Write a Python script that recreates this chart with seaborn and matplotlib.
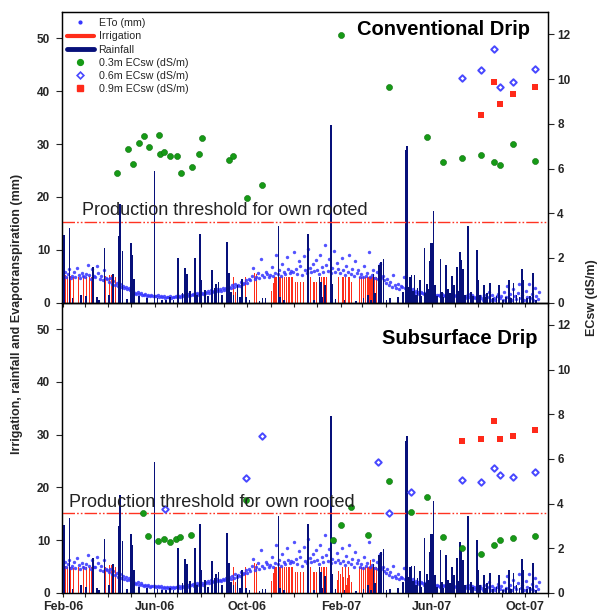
import numpy as np
import pandas as pd
import matplotlib
matplotlib.use("Agg")
import matplotlib.pyplot as plt
import matplotlib.dates as mdates
import matplotlib.transforms as mtrans
from matplotlib.lines import Line2D
import seaborn as sns

START = pd.Timestamp("2006-02-01")

# ---------------- data (day offsets from 1 Feb 2006) ----------------
# Daily reference evapotranspiration, sampled every 2 days (mm)
eto_mm = [
    5.2, 5.8, 4.9, 5.5, 6.3, 4.7, 5.1, 5.9, 4.8, 6.6, 5.3, 4.6, 5.7, 5.0,            # Feb-06
    4.8, 5.5, 7.1, 5.2, 4.5, 6.3, 5.0, 4.9, 6.9, 5.6, 4.4, 5.1, 4.2, 6.2, 4.6,       # Mar-06
    4.4, 3.9, 4.6, 3.6, 4.1, 3.4, 3.8, 3.1, 3.5, 2.9, 3.2, 2.7, 3.0, 2.5, 2.8,       # Apr-06
    2.4, 2.1, 2.3, 1.9, 1.7, 2.0, 1.6, 1.8, 1.5, 1.4, 1.6, 1.3, 1.5, 1.2, 1.4, 1.3,  # May-06
    1.3, 1.2, 1.4, 1.1, 1.3, 1.0, 1.2, 0.9, 1.1, 1.0, 1.2, 0.9, 1.1, 1.0, 1.2,       # Jun-06
    1.1, 1.3, 1.0, 1.4, 1.2, 1.5, 1.3, 1.6, 1.2, 1.5, 1.7, 1.4, 1.6, 1.8, 1.5,       # Jul-06
    1.7, 1.9, 1.6, 2.0, 1.8, 2.2, 1.9, 2.4, 2.0, 2.3, 2.1, 2.6, 2.2, 2.5, 2.3, 2.7,  # Aug-06
    2.4, 2.8, 2.6, 3.0, 2.7, 3.3, 2.9, 3.6, 3.1, 3.4, 3.2, 4.0, 3.5, 3.8, 4.3,       # Sep-06
    3.8, 4.5, 4.2, 5.1, 6.5, 4.4, 4.9, 5.6, 4.6, 8.2, 5.2, 4.8, 5.9, 5.4, 4.9,       # Oct-06
    5.3, 6.8, 5.0, 5.7, 9.1, 5.5, 6.2, 5.1, 7.4, 5.9, 5.4, 8.6, 6.3, 5.6, 6.0,       # Nov-06
    5.8, 9.6, 6.4, 5.5, 7.9, 6.9, 5.2, 8.8, 6.1, 5.7, 10.2, 6.6, 5.9, 7.3, 6.0, 8.1, # Dec-06
    6.2, 5.4, 9.0, 6.8, 5.8, 11.0, 7.1, 6.0, 8.3, 5.6, 6.5, 9.7, 5.9, 7.6, 6.3,      # Jan-07
    5.7, 8.5, 6.1, 5.3, 7.0, 5.9, 9.1, 5.5, 6.4, 5.0, 7.8, 5.6, 6.2, 4.9,            # Feb-07
    5.4, 4.8, 6.9, 5.1, 5.6, 9.6, 4.9, 5.3, 6.2, 4.7, 5.8, 4.5, 7.3, 4.6, 5.0, 4.2,  # Mar-07
    3.8, 4.5, 3.4, 3.9, 3.0, 5.2, 3.3, 2.8, 3.6, 2.6, 3.1, 2.9, 4.8, 2.7, 2.5,       # Apr-07
    2.4, 2.8, 2.2, 2.6, 1.9, 2.3, 2.0, 1.7, 2.1, 1.8, 1.6, 1.9, 1.5, 1.7, 1.4,       # May-07
    1.6, 1.4, 1.7, 1.3, 1.5, 1.4, 1.2, 1.6, 1.3, 1.5, 1.2, 1.4, 1.1, 1.3, 1.4,       # Jun-07
    1.2, 1.4, 1.0, 1.3, 1.1, 1.5, 1.2, 0.9, 1.3, 1.6, 1.0, 1.2, 1.4, 1.1, 0.8, 1.3,  # Jul-07
    0.7, 1.3, 0.9, 0.5, 1.5, 0.8, 1.1, 2.0, 0.6, 1.4, 0.9, 0.5, 1.2, 1.7, 0.8,       # Aug-07
    1.3, 0.6, 2.1, 1.0, 3.2, 0.8, 1.6, 0.5, 2.5, 1.2, 0.7, 1.9, 3.6, 0.9, 1.5,       # Sep-07
    0.6, 2.3, 1.1, 3.5, 0.8, 1.7, 0.5, 2.8, 1.3, 0.7, 2.0,                           # Oct-07
]

rain_day = [1, 8, 12, 23, 30, 39, 44, 47, 54, 60, 65, 73, 75, 78, 84, 89, 91, 93, 100,
            110, 120, 124, 130, 135, 140, 145, 151, 157, 160, 163, 167, 173, 176, 180,
            181, 186, 190, 196, 199, 201, 204, 209, 215, 218, 221, 224, 229, 232, 235,
            240, 245, 258, 262, 266, 283, 285, 290, 322, 330, 337, 339, 341, 344, 352,
            353, 354, 358, 370, 385, 395, 401, 405, 408, 410, 415, 418, 421, 425, 430,
            440, 447, 450, 451, 452, 455, 456, 458, 460, 462, 464, 466, 469, 471, 475,
            476, 478, 480, 482, 483, 485, 487, 489, 492, 496, 498, 500, 503, 506, 509,
            511, 512, 514, 518, 519, 522, 524, 526, 528, 532, 533, 536, 539, 544, 546,
            548, 553, 555, 557, 561, 565, 570, 573, 578, 582, 586, 589, 592, 596, 600,
            603, 605, 610, 614, 618, 622]
rain_mm = [12.8, 14.2, 0.8, 1.5, 1.2, 6.7, 1.0, 0.6, 10.3, 1.5, 5.4, 12.6, 18.6, 9.8, 0.7,
           11.2, 9.0, 4.4, 1.2, 0.9, 24.9, 0.8, 0.5, 0.5, 1.0, 0.6, 8.5, 1.8, 6.5, 5.5,
           2.2, 8.5, 1.5, 13.0, 4.3, 2.4, 1.2, 6.1, 2.8, 3.5, 4.0, 1.5, 11.4, 5.6, 2.0,
           1.5, 3.4, 1.0, 4.4, 1.0, 0.6, 0.4, 0.8, 0.8, 14.6, 1.0, 0.5, 13.0, 0.6, 4.9,
           3.9, 1.0, 3.3, 33.6, 13.0, 3.5, 0.7, 0.5, 0.4, 0.8, 1.5, 0.6, 5.5, 1.8, 7.2,
           7.7, 8.3, 0.5, 0.8, 1.0, 2.0, 4.0, 28.8, 29.7, 3.0, 4.9, 5.2, 2.2, 5.2, 1.5,
           2.8, 4.2, 1.2, 10.4, 1.8, 3.6, 2.5, 7.8, 11.2, 11.2, 17.4, 3.4, 1.2, 8.2, 2.0,
           1.0, 7.1, 2.5, 1.8, 5.0, 3.0, 3.4, 6.7, 2.2, 9.6, 8.0, 6.3, 1.5, 14.6, 8.2,
           2.0, 1.2, 10.0, 4.3, 1.5, 3.4, 1.0, 1.8, 3.7, 0.8, 1.2, 3.4, 0.6, 1.0, 4.3,
           0.8, 3.7, 1.5, 1.0, 6.4, 4.3, 0.8, 1.2, 5.6, 0.6]

irr_day = [0, 3, 6, 9, 13, 20, 26, 31, 34, 37, 40, 47, 55, 61, 63, 69,
           224, 227, 239, 240, 252, 254, 274, 277,
           278, 279, 281, 283, 284, 286, 288, 289, 291, 293, 294, 296, 298, 300, 302,
           306, 308, 310, 312, 314, 316, 318, 321, 323, 325, 329, 331, 333, 335,
           340, 342, 344, 346, 360, 361, 362, 364, 365, 367, 368, 369, 371, 372, 374,
           375, 377, 379, 390, 392, 393, 395, 397, 398, 400, 402, 403, 404, 405, 407,
           409, 410, 412, 414]
irr_conv_mm = [4.9, 5.2, 4.9, 5.0, 4.8, 4.9, 5.1, 4.9, 5.0, 4.9, 4.8, 5.0, 5.0, 5.3, 5.3, 4.9,
               4.9, 2.0, 5.5, 4.9, 5.6, 5.5, 2.3, 3.7,
               4.9, 4.9, 4.9, 4.9, 4.9, 4.9, 4.9, 4.9, 4.9, 4.9, 4.9, 4.9, 4.9, 4.9, 4.9,
               3.9, 3.9, 3.9, 3.9, 3.9, 3.9, 3.9, 4.9, 4.9, 4.9, 3.9, 3.9, 3.9, 3.9,
               4.9, 4.9, 4.9, 4.9, 4.9, 0.0, 4.9, 0.0, 0.0, 4.9, 0.0, 4.9, 4.9, 0.0, 0.0,
               4.9, 4.9, 3.9, 4.9, 4.9, 4.9, 4.9, 4.9, 4.9, 4.9, 4.9, 4.9, 4.9, 4.9, 4.9,
               4.9, 4.9, 4.9, 4.9]
irr_sub_mm = [4.9, 5.2, 4.9, 5.0, 4.8, 4.9, 5.1, 4.9, 5.0, 4.9, 4.8, 5.0, 5.0, 5.3, 5.3, 4.9,
              4.9, 2.0, 5.5, 4.9, 5.6, 5.5, 2.3, 3.7,
              4.9, 4.9, 4.9, 4.9, 4.9, 4.9, 4.9, 4.9, 4.9, 4.9, 4.9, 4.9, 4.9, 4.9, 4.9,
              3.9, 3.9, 3.9, 3.9, 3.9, 3.9, 3.9, 4.9, 4.9, 4.9, 3.9, 3.9, 3.9, 3.9,
              4.9, 4.9, 4.9, 4.9, 4.9, 2.5, 4.2, 1.8, 3.6, 4.9, 2.2, 3.0, 4.9, 1.6, 2.8,
              4.9, 3.4, 2.0, 4.9, 4.9, 4.9, 4.9, 4.9, 4.9, 4.9, 4.9, 4.9, 6.3, 4.9, 4.9,
              4.9, 4.9, 4.9, 4.9]

# Soil water salinity ECsw (dS/m) - Conventional drip
conv_03_day = [71, 85, 92, 99, 106, 113, 126, 127, 133, 141, 149, 155, 169, 178, 183,
               218, 223, 241, 261, 365, 429, 479, 500, 525, 549, 566, 575, 591, 620]
conv_03 = [5.82, 6.87, 6.21, 7.12, 7.47, 6.97, 7.52, 6.66, 6.72, 6.58, 6.54, 5.82, 6.08,
           6.67, 7.36, 6.39, 6.58, 4.66, 5.26, 11.96, 9.63, 7.39, 6.27, 6.48, 6.60, 6.31,
           6.17, 7.08, 6.33]
conv_06_day = [525, 549, 566, 575, 591, 620]
conv_06 = [10.05, 10.39, 11.35, 9.63, 9.87, 10.47]
conv_09_day = [549, 566, 575, 591, 620]
conv_09 = [8.39, 9.88, 8.87, 9.35, 9.63]

# Subsurface drip
sub_03_day = [105, 112, 125, 132, 140, 148, 154, 168, 240, 355, 365, 379, 401, 429, 458,
              479, 500, 525, 549, 566, 575, 591, 620]
sub_03 = [3.59, 2.56, 2.32, 2.41, 2.30, 2.41, 2.49, 2.60, 4.17, 2.35, 3.06, 3.83, 2.61,
          5.0, 3.63, 4.29, 2.49, 2.0, 1.75, 2.15, 2.39, 2.44, 2.57]
sub_06_day = [134, 240, 261, 414, 429, 458, 525, 549, 566, 575, 591, 620]
sub_06 = [3.74, 5.14, 7.02, 5.85, 3.59, 4.53, 5.05, 4.97, 5.60, 5.30, 5.21, 5.43]
sub_09_day = [525, 549, 566, 575, 591, 620]
sub_09 = [6.80, 6.89, 7.69, 6.89, 7.02, 7.28]

threshold_ecsw = 3.6
panel_titles = ["Conventional Drip", "Subsurface Drip"]
threshold_label = "Production threshold for own rooted"

# ---------------- styling ----------------
sns.set_style("ticks")
plt.rcParams['font.family'] = ['Liberation Sans', 'DejaVu Sans']

NAVY = "#07107a"
RED = "#ff2d1a"
ETO_BLUE = "#3535ff"
GREEN = "#169a16"
DIAM = "#4848ff"
SQ = "#ff2a1a"


def to_dates(days):
    return START + pd.to_timedelta(np.asarray(days, dtype=float), unit="D")


XMIN = START - pd.Timedelta(days=1.3)
XMAX = pd.Timestamp("2007-11-01")

fig = plt.figure(figsize=(5.98, 6.11), dpi=100)
ax_top = fig.add_axes([0.1042, 0.5046, 0.8127, 0.4758])
ax_bot = fig.add_axes([0.1042, 0.0295, 0.8127, 0.4752])
ax_bot.patch.set_alpha(0)

eto_dates = pd.date_range(START, periods=len(eto_mm), freq="2D")

panels = [
    (ax_top, irr_conv_mm, (conv_03_day, conv_03), (conv_06_day, conv_06), (conv_09_day, conv_09),
     panel_titles[0], (0.962, 0.921), 0.0405),
    (ax_bot, irr_sub_mm, (sub_03_day, sub_03), (sub_06_day, sub_06), (sub_09_day, sub_09),
     panel_titles[1], (0.977, 0.856), 0.0144),
]

for i, (ax, irr, d03, d06, d09, title, tpos, txt_x) in enumerate(panels):
    ax.bar(to_dates(irr_day), irr, width=1.15, color=RED, linewidth=0, zorder=2)
    sns.scatterplot(x=eto_dates, y=eto_mm, ax=ax, color=ETO_BLUE, s=6, linewidth=0,
                    alpha=0.85, zorder=3, legend=False)
    ax.bar(to_dates(rain_day), rain_mm, width=2.2, color=NAVY, linewidth=0, zorder=4)

    ax.set_xlim(XMIN, XMAX)
    ax.set_ylim(0, 55)
    ax.set_yticks(range(0, 51, 10))
    ax.set_xlabel("")
    ax.set_ylabel("")
    ax.xaxis.set_major_locator(mdates.MonthLocator(bymonth=[2, 6, 10]))
    ax.xaxis.set_minor_locator(mdates.MonthLocator())
    ax.xaxis.set_major_formatter(mdates.DateFormatter('%b-%y'))
    ax.tick_params(axis='x', which='both', direction='out', length=3, width=0.8,
                   labelsize=9, pad=3, labelbottom=(i == 1))
    ax.tick_params(axis='y', direction='out', length=4, width=0.8, labelsize=8.5, pad=4.8)
    for lab in ax.get_xticklabels() + ax.get_yticklabels():
        lab.set_fontweight('bold')
    for sp in ax.spines.values():
        sp.set_linewidth(0.9)
        sp.set_color('black')

    ax2 = ax.twinx()
    ax2.axhline(threshold_ecsw, color="#ff3322", lw=1.0,
                ls=(0, (9, 1.5, 1.2, 1.5, 1.2, 1.5)), zorder=1)
    sns.scatterplot(x=to_dates(d03[0]), y=d03[1], ax=ax2, color=GREEN, s=19,
                    edgecolor="#0d700d", linewidth=0.4, marker='o', legend=False, zorder=5)
    sns.scatterplot(x=to_dates(d06[0]), y=d06[1], ax=ax2, facecolor='white', s=11,
                    edgecolor=DIAM, linewidth=1.4, marker='D', legend=False, zorder=5)
    sns.scatterplot(x=to_dates(d09[0]), y=d09[1], ax=ax2, color=SQ, s=17,
                    linewidth=0, marker='s', legend=False, zorder=5)
    ax2.set_xlim(XMIN, XMAX)
    ax2.set_ylim(0, 13)
    ax2.set_yticks(range(0, 13, 2))
    ax2.set_ylabel("")
    ax2.tick_params(axis='y', direction='out', length=4, width=0.8, labelsize=8.5, pad=2.5)
    for lab in ax2.get_yticklabels():
        lab.set_fontweight('bold')
    for sp in ax2.spines.values():
        sp.set_linewidth(0.9)
        sp.set_color('black')

    ax2.text(tpos[0], tpos[1], title, transform=ax2.transAxes, ha='right', va='baseline',
             fontsize=14.5, fontweight='bold', color='black', zorder=6)
    trans = mtrans.blended_transform_factory(ax2.transAxes, ax.transData)
    ax2.text(txt_x, 16.5 if i == 0 else 16.3, threshold_label, transform=trans,
             ha='left', va='baseline', fontsize=13, color='#222222', zorder=6)

    if i == 0:
        handles = [
            Line2D([], [], marker='o', ls='none', color=ETO_BLUE, markersize=2, label='ETo (mm)'),
            Line2D([], [], color=RED, lw=3, label='Irrigation'),
            Line2D([], [], color=NAVY, lw=3.5, label='Rainfall'),
            Line2D([], [], marker='o', ls='none', color=GREEN, markersize=4.2,
                   label='0.3m ECsw (dS/m)'),
            Line2D([], [], marker='D', ls='none', mfc='white', mec=DIAM, mew=1.2,
                   markersize=3.4, label='0.6m ECsw (dS/m)'),
            Line2D([], [], marker='s', ls='none', color=SQ, markersize=3.8,
                   label='0.9m ECsw (dS/m)'),
        ]
        ax2.legend(handles=handles, loc='upper left', bbox_to_anchor=(0.003, 0.99),
                   frameon=False, fontsize=7.7, handlelength=2.5, handletextpad=0.45,
                   labelspacing=0.3, borderpad=0.3, borderaxespad=0)

fig.text(17.5 / 598, 1 - 314 / 611, "Irrigation, rainfall and Evapotranspiration (mm)",
         rotation=90, ha='center', va='center', fontsize=9, fontweight='bold')
fig.text(591.5 / 598, 1 - 297.5 / 611, "ECsw (dS/m)", rotation=90, ha='center',
         va='center', fontsize=9, fontweight='bold')

fig.savefig("out.png", dpi=100)
